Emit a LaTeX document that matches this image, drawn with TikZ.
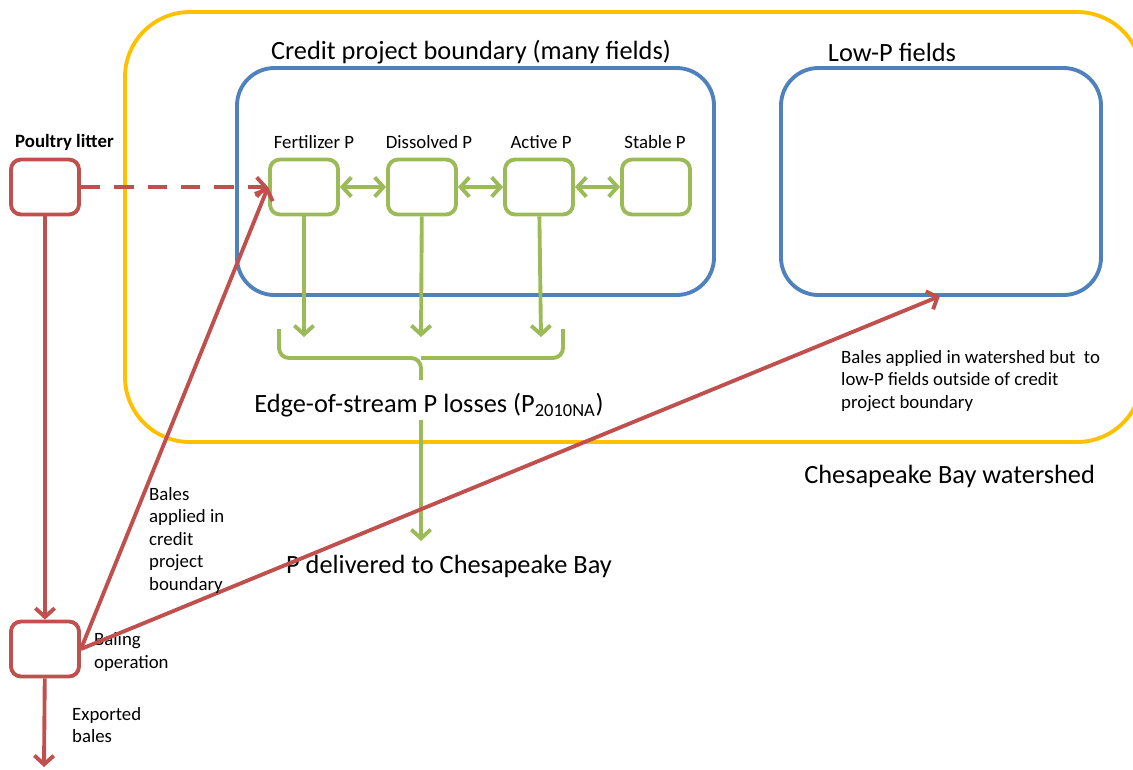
\documentclass[tikz,border=0pt]{standalone}
\usepackage{fontspec}
\setmainfont{Carlito}
\usepackage{tikz}
\usetikzlibrary{arrows.meta, positioning}

\definecolor{litred}{HTML}{C0504D}
\definecolor{poolgreen}{HTML}{9BBB59}
\definecolor{fieldblue}{HTML}{4F81BD}
\definecolor{shedyellow}{HTML}{FFC000}

\newcommand{\smalltxt}{\fontsize{10.7}{12.8}\selectfont}
\newcommand{\bigtxt}{\fontsize{15}{18}\selectfont}

\begin{document}
\begin{tikzpicture}[x=0.02cm, y=-0.02cm,
    pool/.style={draw=poolgreen, line width=2.2pt, rounded corners=0.2cm, minimum width=1.36cm, minimum height=1.1cm},
    litterbox/.style={draw=litred, line width=2.2pt, rounded corners=0.2cm, minimum width=1.36cm, minimum height=1.1cm},
    greenflow/.style={draw=poolgreen, line width=2.2pt, -{Straight Barb[length=5pt, width=11pt]}},
    greenswap/.style={draw=poolgreen, line width=2.2pt, {Straight Barb[length=5pt, width=11pt]}-{Straight Barb[length=5pt, width=11pt]}},
    redflow/.style={draw=litred, line width=2.2pt, -{Straight Barb[length=5pt, width=11pt]}},
    smalllab/.style={font=\smalltxt, align=left},
    biglab/.style={font=\bigtxt}]
      \useasboundingbox (0,0) rectangle (1133,769);

      % watershed and field boundaries
      \draw[shedyellow, line width=2.2pt, rounded corners=1.3cm] (125,12) rectangle (1142,442);
      \draw[fieldblue, line width=2.2pt, rounded corners=0.75cm] (237,68) rectangle (714,295);
      \draw[fieldblue, line width=2.2pt, rounded corners=0.75cm] (781,68) rectangle (1101,295);
      \node[biglab] (credit) at (471,52) {Credit project boundary (many fields)};
      \node[biglab] (lowp) at (892,52) {Low-P fields};
      \coordinate (lowpin) at (940,296);
      \node[biglab, anchor=east] (shed) at (1101,476) {Chesapeake Bay watershed};

      % P pools
      \node[pool] (fert) at (304,187) {};
      \node[pool] (diss) at (422,187) {};
      \node[pool] (act) at (539,187) {};
      \node[pool] (stab) at (656,187) {};
      \node[smalllab] (fertlab) at (314,142) {Fertilizer P};
      \node[smalllab] (disslab) at (429,142) {Dissolved P};
      \node[smalllab] (actlab) at (541,142) {Active P};
      \node[smalllab] (stablab) at (655,142) {Stable P};

      \draw[greenswap] (fert) -- (diss);
      \draw[greenswap] (diss) -- (act);
      \draw[greenswap] (act) -- (stab);

      % losses
      \coordinate (fertout) at (304,337);
      \coordinate (dissout) at (421,337);
      \coordinate (actout) at (541,337);
      \draw[greenflow] (fert) -- (fertout);
      \draw[greenflow] (diss) -- (dissout);
      \draw[greenflow] (act) -- (actout);
      \draw[poolgreen, line width=2.2pt, rounded corners=0.2cm] (279,329) -- (279,358) -- (421,358) -- (421,380);
      \draw[poolgreen, line width=2.2pt, rounded corners=0.2cm] (421,358) -- (563,358) -- (563,329);

      \node[biglab] (losses) at (429,405) {Edge-of-stream P losses (P\textsubscript{2010NA})};
      \node[biglab] (bay) at (449,566) {P delivered to Chesapeake Bay};
      \coordinate (lossout) at (421,420);
      \coordinate (bayin) at (421,541);
      \draw[greenflow] (lossout) -- (bayin);

      % litter and bales
      \node[litterbox] (litter) at (45,187) {};
      \node[smalllab, anchor=west, font=\smalltxt\bfseries] (litterlab) at (9,142) {Poultry litter};
      \node[litterbox] (baling) at (45,649) {};
      \node[smalllab, anchor=west] (balinglab) at (88,652) {Baling\\operation};
      \coordinate (export) at (44,767);
      \node[smalllab, anchor=west] (exportlab) at (66,725) {Exported\\bales};

      \draw[redflow, dashed, dash pattern=on 11pt off 8pt] (litter) -- (fert);
      \draw[redflow] (litter) -- (baling);
      \draw[redflow] (baling.east) -- (fert.west);
      \draw[redflow] (baling.east) -- (lowpin);
      \draw[redflow] (baling) -- (export);

      \node[smalllab, anchor=north west] (creditlab) at (143,481) {Bales\\applied in\\credit\\project\\boundary};
      \node[smalllab, anchor=north west] (shedlab) at (835,344) {Bales applied in watershed but \ to\\low-P fields outside of credit\\project boundary};
    \end{tikzpicture}
\end{document}
